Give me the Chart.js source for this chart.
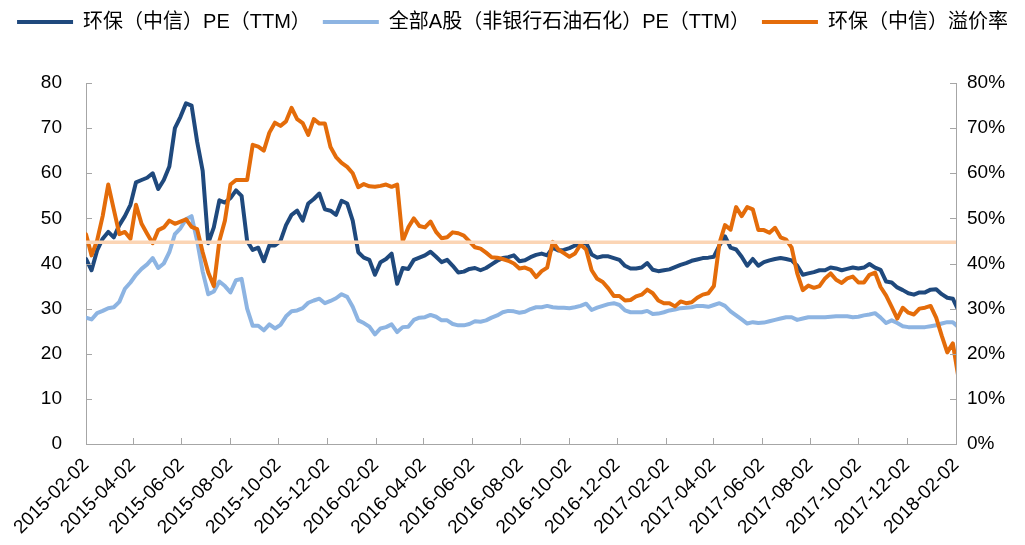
<!DOCTYPE html>
<html>
<head>
<meta charset="utf-8">
<script src="https://cdn.jsdelivr.net/npm/chart.js@4/dist/chart.umd.min.js"></script>
<style>
  html, body { margin: 0; padding: 0; background: #fff; }
  #wrap { width: 1025px; height: 545px; }
</style>
</head>
<body>
<div id="wrap"><canvas id="peChart"></canvas></div>
<script>
// x tick labels, every two months
const tickLabels = [
    '2015-02-02', '2015-04-02', '2015-06-02', '2015-08-02', '2015-10-02', '2015-12-02',
    '2016-02-02', '2016-04-02', '2016-06-02', '2016-08-02', '2016-10-02', '2016-12-02',
    '2017-02-02', '2017-04-02', '2017-06-02', '2017-08-02', '2017-10-02', '2017-12-02',
    '2018-02-02'
];

// weekly readings, first one on 2015-02-02
const weekStep = 7;

// 环保（中信）PE（TTM）
const peIndustry = [
    41.0, 38.5, 42.9, 45.5, 47.0, 45.8, 48.5, 50.5, 53.0, 58.0,
    58.5, 59.0, 60.0, 56.5, 58.5, 61.5, 70.0, 72.5, 75.5, 75.0,
    67.0, 60.5, 44.5, 48.0, 54.0, 53.5, 54.5, 56.2, 55.0, 45.0,
    43.0, 43.5, 40.5, 44.0, 44.0, 45.0, 48.5, 50.8, 51.7, 49.5,
    53.3, 54.3, 55.5, 52.0, 51.7, 50.8, 53.9, 53.3, 49.5, 42.5,
    41.3, 40.8, 37.5, 40.3, 41.0, 42.2, 35.5, 39.0, 38.8, 40.8,
    41.3, 41.8, 42.6, 41.5, 40.3, 40.8, 39.5, 38.0, 38.2, 38.8,
    39.0, 38.5, 39.0, 39.8, 40.6, 41.2, 41.4, 41.8, 40.5, 40.7,
    41.4, 41.9, 42.2, 41.8, 43.5, 42.9, 43.0, 43.4, 44.0, 44.3,
    44.6, 42.0, 41.3, 41.6, 41.6, 41.2, 40.8, 39.5, 38.9, 38.9,
    39.1, 40.1, 38.6, 38.3, 38.5, 38.7, 39.2, 39.7, 40.1, 40.6,
    40.9, 41.2, 41.3, 41.5, 44.0, 46.0, 43.5, 43.1, 41.5, 39.5,
    41.0, 39.5, 40.3, 40.7, 41.0, 41.2, 41.0, 40.7, 39.5, 37.5,
    37.8, 38.1, 38.5, 38.5, 39.1, 38.9, 38.5, 38.8, 39.1, 38.9,
    39.1, 39.9, 39.1, 38.6, 36.0, 35.8, 34.7, 34.1, 33.4, 33.1,
    33.6, 33.6, 34.2, 34.3, 33.2, 32.4, 32.2, 29.6
];

// 全部A股（非银行石油石化）PE（TTM）
const peMarket = [
    28.0, 27.6, 29.0, 29.5, 30.1, 30.3, 31.5, 34.4, 35.8, 37.5,
    38.8, 39.8, 41.2, 39.0, 40.0, 42.5, 46.5, 47.8, 49.8, 50.5,
    45.0, 38.2, 33.2, 33.8, 36.0, 35.0, 33.6, 36.3, 36.6, 30.0,
    26.2, 26.2, 25.2, 26.5, 25.6, 26.4, 28.3, 29.4, 29.6, 30.1,
    31.3, 31.8, 32.2, 31.2, 31.7, 32.3, 33.2, 32.6, 30.4, 27.4,
    26.8, 26.0, 24.3, 25.6, 25.9, 26.5, 24.8, 25.9, 26.0, 27.5,
    28.0, 28.1, 28.6, 28.2, 27.4, 27.4, 26.6, 26.3, 26.3, 26.6,
    27.2, 27.1, 27.4, 28.0, 28.5, 29.2, 29.5, 29.4, 29.1, 29.3,
    29.9, 30.3, 30.3, 30.6, 30.3, 30.2, 30.2, 30.1, 30.3, 30.6,
    31.1, 29.7, 30.2, 30.6, 31.0, 31.2, 30.8, 29.6, 29.2, 29.2,
    29.2, 29.5, 28.8, 28.9, 29.2, 29.6, 29.8, 30.1, 30.2, 30.3,
    30.6, 30.6, 30.4, 30.8, 31.2, 30.6, 29.4, 28.5, 27.6, 26.7,
    27.0, 26.8, 26.9, 27.2, 27.5, 27.8, 28.1, 28.1, 27.5, 27.8,
    28.1, 28.1, 28.1, 28.1, 28.2, 28.3, 28.3, 28.3, 28.1, 28.2,
    28.5, 28.7, 29.0, 28.0, 26.8, 27.4, 26.8, 26.1, 25.9, 25.9,
    25.9, 25.9, 26.1, 26.3, 26.7, 27.0, 27.0, 25.9
];

// 环保（中信）溢价率, in %
const premium = [
    46.5, 41.8, 45.1, 50.5, 57.5, 52.0, 46.5, 47.0, 45.5, 53.0,
    48.8, 46.6, 44.5, 47.4, 48.0, 49.5, 48.8, 49.3, 49.8, 48.1,
    47.6, 42.5, 38.0, 35.0, 45.0, 49.5, 57.5, 58.5, 58.5, 58.5,
    66.3, 65.9, 65.0, 69.0, 71.2, 70.5, 71.5, 74.5, 72.0, 71.1,
    68.5, 72.0, 71.0, 71.0, 65.8, 63.6, 62.3, 61.4, 60.0, 56.9,
    57.6, 57.1, 57.0, 57.2, 57.5, 57.0, 57.5, 45.0, 48.0, 50.0,
    48.3, 48.0, 49.3, 47.0, 45.6, 45.8, 46.9, 46.7, 46.2, 44.9,
    43.6, 43.3, 42.4, 41.4, 41.3, 41.0, 40.6, 40.0, 38.9, 39.1,
    38.6, 37.0, 38.3, 39.1, 44.8, 43.1, 42.3, 41.5, 42.2, 44.2,
    43.1, 38.5, 36.6, 35.9, 34.5, 32.8, 32.8, 31.8, 31.9, 32.7,
    33.1, 34.2, 33.4, 31.8, 31.2, 31.2, 30.5, 31.6, 31.2, 31.4,
    32.4, 33.1, 33.4, 35.0, 44.5, 48.5, 47.5, 52.5, 50.5, 52.5,
    52.0, 47.4, 47.4, 46.8, 47.9, 45.8, 45.3, 43.5, 37.8, 34.1,
    35.1, 34.6, 35.0, 36.7, 37.8, 36.4, 35.7, 36.7, 37.1, 35.8,
    35.8, 37.5, 38.0, 34.8, 32.9, 30.4, 27.8, 30.2, 29.1, 28.7,
    30.0, 30.2, 30.6, 28.0, 24.0, 20.3, 22.3, 14.8
];

// average premium line, in %
const premiumAvg = 44.7;

const FONT = "'Liberation Sans', Arial, 'Noto Sans CJK SC', sans-serif";
const AXIS_COLOR = '#A6A6A6';

const dayOf = (s) => (Date.parse(s) - Date.parse(tickLabels[0])) / 86400000;
const lastDay = dayOf(tickLabels[tickLabels.length - 1]);
const toPoints = (arr) => arr.map((v, i) => ({ x: i * weekStep, y: v }));

// small tick marks drawn inside the plot area, like the original
const innerTicks = {
    id: 'innerTicks',
    afterDatasetsDraw(chart) {
        const { ctx, chartArea, scales } = chart;
        const len = 6;
        ctx.save();
        ctx.strokeStyle = AXIS_COLOR;
        ctx.lineWidth = 1;
        ctx.beginPath();
        scales.x.ticks.forEach(t => {
            const px = Math.round(scales.x.getPixelForValue(t.value)) + 0.5;
            ctx.moveTo(px, chartArea.bottom);
            ctx.lineTo(px, chartArea.bottom - len);
        });
        scales.y.ticks.forEach(t => {
            const py = Math.round(scales.y.getPixelForValue(t.value)) + 0.5;
            ctx.moveTo(chartArea.left, py);
            ctx.lineTo(chartArea.left + len, py);
        });
        scales.y1.ticks.forEach(t => {
            const py = Math.round(scales.y1.getPixelForValue(t.value)) + 0.5;
            ctx.moveTo(chartArea.right, py);
            ctx.lineTo(chartArea.right - len, py);
        });
        ctx.stroke();
        ctx.restore();
    }
};

// leave room under the legend, as the original plot starts lower
const legendSpace = {
    id: 'legendSpace',
    beforeInit(chart) {
        const fit = chart.legend.fit;
        chart.legend.fit = function () {
            fit.bind(this)();
            this.height = 83;
        };
    }
};

const ctx = document.getElementById('peChart').getContext('2d');

new Chart(ctx, {
    type: 'line',
    data: {
        datasets: [{
            label: '环保（中信）PE（TTM）',
            data: toPoints(peIndustry),
            borderColor: '#1F497D',
            backgroundColor: '#1F497D',
            borderWidth: 4,
            yAxisID: 'y',
            order: 3
        }, {
            label: '全部A股（非银行石油石化）PE（TTM）',
            data: toPoints(peMarket),
            borderColor: '#8DB4E2',
            backgroundColor: '#8DB4E2',
            borderWidth: 4,
            yAxisID: 'y',
            order: 2
        }, {
            label: '环保（中信）溢价率',
            data: toPoints(premium),
            borderColor: '#E46C0A',
            backgroundColor: '#E46C0A',
            borderWidth: 4,
            yAxisID: 'y1',
            order: 1
        }, {
            label: 'avg',
            data: [{ x: 0, y: premiumAvg }, { x: lastDay, y: premiumAvg }],
            borderColor: '#FBD5B5',
            borderWidth: 3.5,
            yAxisID: 'y1',
            order: 0
        }]
    },
    options: {
        responsive: true,
        maintainAspectRatio: false,
        animation: false,
        layout: { padding: 0 },
        elements: {
            point: { radius: 0, hoverRadius: 0 },
            line: { tension: 0, borderCapStyle: 'round', borderJoinStyle: 'round' }
        },
        plugins: {
            tooltip: { enabled: false },
            legend: {
                position: 'top',
                labels: {
                    color: '#000',
                    font: { family: FONT, size: 20 },
                    boxWidth: 56,
                    boxHeight: 4,
                    padding: 12,
                    filter: (item) => item.datasetIndex < 3,
                    sort: (a, b) => a.datasetIndex - b.datasetIndex,
                    generateLabels: (chart) => Chart.defaults.plugins.legend.labels
                        .generateLabels(chart)
                        .map(l => ({ ...l, lineWidth: 0 }))
                }
            }
        },
        scales: {
            x: {
                type: 'linear',
                min: 0,
                max: lastDay,
                grid: { display: false, drawTicks: false },
                border: { display: true, color: AXIS_COLOR, width: 1 },
                afterBuildTicks: (scale) => {
                    scale.ticks = tickLabels.map(d => ({ value: dayOf(d) }));
                },
                afterFit: (scale) => { scale.height = 101; },
                ticks: {
                    autoSkip: false,
                    minRotation: 45,
                    maxRotation: 45,
                    padding: 10,
                    color: '#000',
                    font: { family: FONT, size: 19 },
                    callback: (value) => tickLabels.find(d => dayOf(d) === value) || ''
                }
            },
            y: {
                position: 'left',
                min: 0,
                max: 80,
                grid: { display: false, drawTicks: false },
                border: { display: true, color: AXIS_COLOR, width: 1 },
                afterFit: (scale) => { scale.width = 86; },
                ticks: {
                    stepSize: 10,
                    padding: 24,
                    color: '#000',
                    font: { family: FONT, size: 19 }
                }
            },
            y1: {
                position: 'right',
                min: 0,
                max: 80,
                grid: { display: false, drawTicks: false },
                border: { display: true, color: AXIS_COLOR, width: 1 },
                afterFit: (scale) => { scale.width = 69; },
                ticks: {
                    stepSize: 10,
                    padding: 11,
                    color: '#000',
                    font: { family: FONT, size: 19 },
                    callback: (value) => value + '%'
                }
            }
        }
    },
    plugins: [innerTicks, legendSpace]
});
</script>
</body>
</html>
